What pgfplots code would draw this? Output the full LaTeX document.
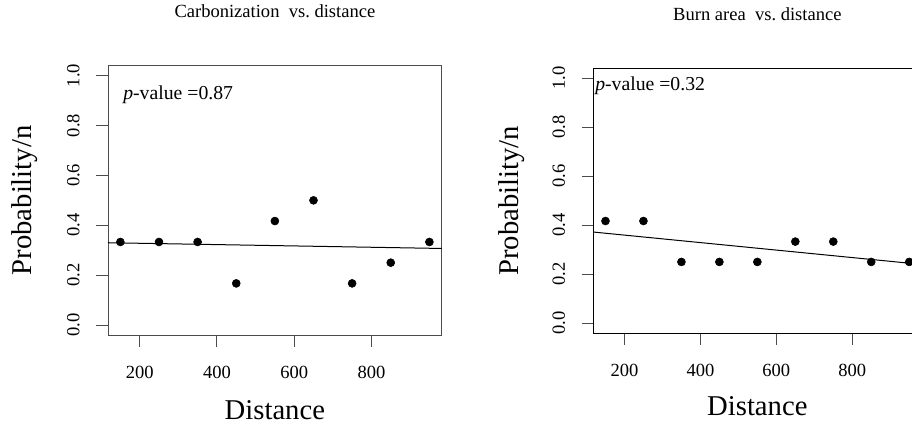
\documentclass[border=0pt]{standalone}
\usepackage{pgfplots}
\pgfplotsset{compat=1.18}
\usepackage{fontspec}
\setmainfont{Liberation Serif}
\begin{document}
\begin{tikzpicture}
\useasboundingbox (0,0) rectangle (684pt,318.75pt);
\pgfplotsset{
  myax/.style={
    scale only axis,
    xmin=118, xmax=982, ymin=-0.04, ymax=1.04,
    xtick={200,400,600,800}, xticklabels={200,400,600,800},
    ytick={0,0.2,0.4,0.6,0.8,1.0}, yticklabels={0.0,0.2,0.4,0.6,0.8,1.0},
    xtick pos=left, ytick pos=left,
    tick align=outside, major tick length=8.8pt,
    tick style={black!70, line width=0.75pt},
    /pgf/number format/assume math mode=true,
    xticklabel style={font=\fontsize{13.9pt}{15pt}\selectfont, anchor=north, inner sep=0pt},
    yticklabel style={font=\fontsize{13.9pt}{15pt}\selectfont, rotate=90, anchor=south, inner sep=0pt},
    xticklabel shift=14.2pt, yticklabel shift=12.2pt,
    label style={font=\fontsize{21.5pt}{23pt}\selectfont, inner sep=0pt},
    title style={font=\fontsize{13.9pt}{15pt}\selectfont, anchor=base},
    xlabel={Distance}, ylabel={Probability/n},
    clip=false,
  }
}
\begin{axis}[myax, at={(81pt,67.5pt)}, anchor=south west, width=250.3pt, height=202pt,
  axis line style={black!70, line width=0.75pt},
  title={Carbonization\ \ vs.\ distance},
  title style={at={(axis description cs:0.5,1.1474)}},
  xlabel style={at={(axis description cs:0.5,-0.312)}, anchor=base},
  ylabel style={at={(axis description cs:-0.249,0.5)}, anchor=center},
]
\addplot[black, line width=0.75pt] coordinates {(118,0.330) (982,0.307)};
\addplot[only marks, mark=*, mark size=3pt, black] coordinates {
 (150,0.333) (250,0.333) (350,0.333) (450,0.167) (550,0.417)
 (650,0.5) (750,0.167) (850,0.25) (950,0.333)};
\node[anchor=base west, inner sep=0pt, font=\fontsize{14.8pt}{16pt}\selectfont] at (rel axis cs:0.045,0.875) {\textit{p}-value =0.87};
\end{axis}
\begin{axis}[myax, at={(445pt,69pt)}, anchor=south west, width=246pt, height=198.5pt,
  axis line style={black, line width=0.75pt},
  title={Burn area\ \ vs.\ distance},
  title style={at={(axis description cs:0.5,1.151)}},
  xlabel style={at={(axis description cs:0.5,-0.310)}, anchor=base},
  ylabel style={at={(axis description cs:-0.248,0.5)}, anchor=center},
]
\addplot[black, line width=0.75pt] coordinates {(118,0.372) (982,0.240)};
\addplot[only marks, mark=*, mark size=3pt, black] coordinates {
 (150,0.417) (250,0.417) (350,0.25) (450,0.25) (550,0.25)
 (650,0.333) (750,0.333) (850,0.25) (950,0.25)};
\node[anchor=base west, inner sep=0pt, font=\fontsize{14.8pt}{16pt}\selectfont] at (rel axis cs:0.005,0.918) {\textit{p}-value =0.32};
\end{axis}
\end{tikzpicture}
\end{document}
